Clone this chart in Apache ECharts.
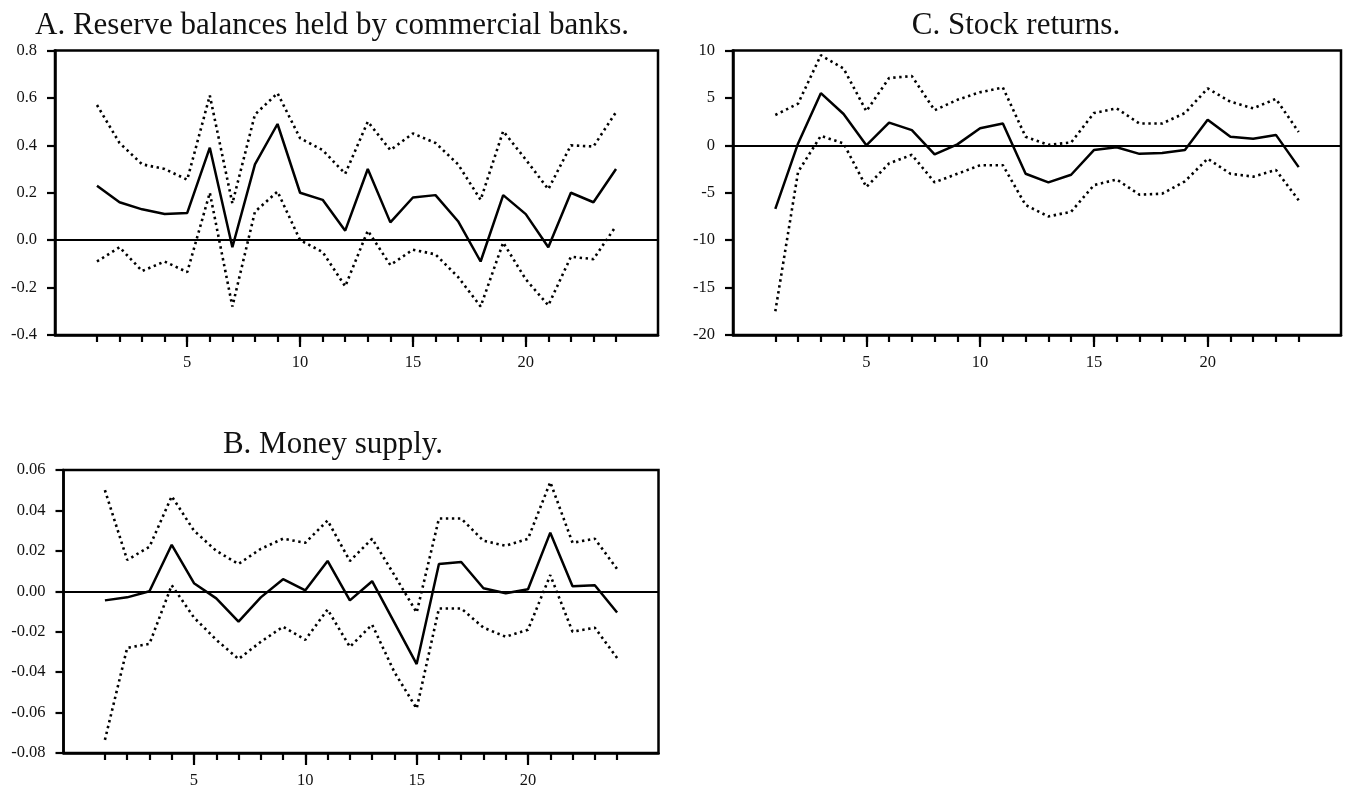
<!DOCTYPE html>
<html>
<head>
<meta charset="utf-8">
<script src="https://cdn.jsdelivr.net/npm/echarts@6/dist/echarts.min.js"></script>
<style>
html,body{margin:0;padding:0;background:#fff;}
#chart{width:1345px;height:789px;}
</style>
</head>
<body>
<div id="chart"></div>
<script>
// Horizon (lags)
const lags = [1,2,3,4,5,6,7,8,9,10,11,12,13,14,15,16,17,18,19,20,21,22,23,24];
const xLabelTicks = [5,10,15,20];

// Panel titles
const titleA = 'A. Reserve balances held by commercial banks.';
const titleB = 'B. Money supply.';
const titleC = 'C. Stock returns.';

// Panel A: Reserve balances
const reserveMid   = [0.23,0.16,0.13,0.11,0.115,0.39,-0.03,0.32,0.49,0.20,0.17,0.04,0.30,0.075,0.18,0.19,0.08,-0.09,0.19,0.11,-0.03,0.20,0.16,0.30];
const reserveUpper = [0.57,0.41,0.32,0.30,0.255,0.61,0.155,0.53,0.62,0.43,0.38,0.28,0.50,0.38,0.45,0.41,0.32,0.17,0.46,0.34,0.215,0.40,0.395,0.54];
const reserveLower = [-0.09,-0.03,-0.13,-0.09,-0.135,0.20,-0.28,0.12,0.205,0.0,-0.05,-0.195,0.04,-0.105,-0.04,-0.06,-0.155,-0.28,-0.01,-0.165,-0.275,-0.07,-0.08,0.06];

// Panel B: Money supply
const moneyMid   = [-0.0045,-0.003,0.0,0.023,0.004,-0.0035,-0.015,-0.003,0.006,0.0005,0.015,-0.0045,0.005,-0.0155,-0.036,0.0135,0.0145,0.0015,-0.001,0.001,0.029,0.0025,0.003,-0.0105];
const moneyUpper = [0.05,0.0155,0.022,0.047,0.03,0.02,0.0135,0.021,0.026,0.024,0.035,0.015,0.026,0.008,-0.0105,0.036,0.036,0.025,0.0225,0.026,0.054,0.024,0.026,0.011];
const moneyLower = [-0.0735,-0.028,-0.026,0.003,-0.013,-0.024,-0.0335,-0.025,-0.0175,-0.024,-0.009,-0.0275,-0.0165,-0.04,-0.058,-0.0085,-0.0085,-0.018,-0.0225,-0.019,0.008,-0.02,-0.018,-0.033];

// Panel C: Stock returns
const stockMid   = [-6.7,0.2,5.5,3.3,0.0,2.4,1.6,-0.95,0.1,1.8,2.3,-3.0,-3.9,-3.1,-0.5,-0.2,-0.9,-0.8,-0.5,2.7,0.9,0.7,1.1,-2.3];
const stockUpper = [3.2,4.4,9.5,8.1,3.6,7.1,7.3,3.7,4.8,5.6,6.1,0.9,0.05,0.3,3.4,3.9,2.3,2.3,3.4,6.0,4.6,3.9,4.9,1.4];
const stockLower = [-17.5,-2.8,1.0,0.2,-4.4,-1.9,-1.0,-3.9,-3.0,-2.1,-2.1,-6.3,-7.5,-7.0,-4.2,-3.6,-5.2,-5.1,-3.8,-1.4,-3.0,-3.3,-2.6,-5.8];

const FONT = 'Liberation Serif, Times New Roman, serif';
const X_MIN = -0.86, X_MAX = 25.86;

const panels = [
  {title: titleA, tx: 327, ty: 5, grid: {left: 55, top: 50.5, width: 603, height: 284.5},
   y: {min: -0.4, max: 0.8, interval: 0.2, dec: 1}, mid: reserveMid, up: reserveUpper, lo: reserveLower},
  {title: titleC, tx: 1011, ty: 5, grid: {left: 733, top: 50.5, width: 608, height: 284.5},
   y: {min: -20, max: 10, interval: 5, dec: 0}, mid: stockMid, up: stockUpper, lo: stockLower},
  {title: titleB, tx: 328, ty: 424, grid: {left: 63.5, top: 470, width: 595, height: 284},
   y: {min: -0.08, max: 0.06, interval: 0.02, dec: 2}, mid: moneyMid, up: moneyUpper, lo: moneyLower}
];

const option = {
  backgroundColor: '#fff',
  animation: false,
  title: [], grid: [], xAxis: [], yAxis: [], series: []
};

panels.forEach((p, i) => {
  option.title.push({
    text: p.title, left: p.tx, top: p.ty, textAlign: 'center',
    textStyle: {fontFamily: FONT, fontSize: 31, fontWeight: 'normal', color: '#111'}
  });
  option.grid.push(Object.assign({show: true, borderColor: '#000', borderWidth: 2.5, backgroundColor: 'transparent', containLabel: false}, p.grid));
  // major x axis: ticks at 5,10,15,20 with labels
  option.xAxis.push({
    type: 'value', gridIndex: i, min: X_MIN, max: X_MAX, position: 'bottom',
    axisLine: {show: true, onZero: false, lineStyle: {color: '#000', width: 2.5}},
    axisTick: {show: true, inside: false, length: 12, lineStyle: {color: '#000', width: 2.2}, customValues: xLabelTicks},
    axisLabel: {show: true, margin: 19, customValues: xLabelTicks, fontFamily: FONT, fontSize: 16.5, color: '#111'},
    splitLine: {show: false}
  });
  // minor x axis: ticks at every lag
  option.xAxis.push({
    type: 'value', gridIndex: i, min: X_MIN, max: X_MAX, position: 'bottom',
    axisLine: {show: false, onZero: false},
    axisTick: {show: true, inside: false, length: 7, lineStyle: {color: '#000', width: 2.2}, customValues: lags},
    axisLabel: {show: false},
    splitLine: {show: false}
  });
  option.yAxis.push({
    type: 'value', gridIndex: i, min: p.y.min, max: p.y.max, interval: p.y.interval,
    axisLine: {show: true, onZero: false, lineStyle: {color: '#000', width: 2.5}},
    axisTick: {show: true, inside: false, length: 8, lineStyle: {color: '#000', width: 2.2}},
    axisLabel: {show: true, margin: 18, fontFamily: FONT, fontSize: 16.5, color: '#111',
      formatter: v => Number(v).toFixed(p.y.dec)},
    splitLine: {show: false}
  });
  const xi = i * 2;
  const pts = arr => lags.map((l, k) => [l, arr[k]]);
  option.series.push({
    type: 'line', xAxisIndex: xi, yAxisIndex: i, data: pts(p.mid), symbol: 'none',
    lineStyle: {color: '#000', width: 2.5, type: 'solid'},
    markLine: {silent: true, symbol: 'none', label: {show: false},
      lineStyle: {color: '#000', width: 2, type: 'solid'}, data: [{yAxis: 0}]}
  });
  option.series.push({
    type: 'line', xAxisIndex: xi, yAxisIndex: i, data: pts(p.up), symbol: 'none',
    lineStyle: {color: '#000', width: 2.6, type: [2.4, 3.6]}
  });
  option.series.push({
    type: 'line', xAxisIndex: xi, yAxisIndex: i, data: pts(p.lo), symbol: 'none',
    lineStyle: {color: '#000', width: 2.6, type: [2.4, 3.6]}
  });
});

const chart = echarts.init(document.getElementById('chart'), null, {renderer: 'canvas'});
chart.setOption(option);
</script>
</body>
</html>
